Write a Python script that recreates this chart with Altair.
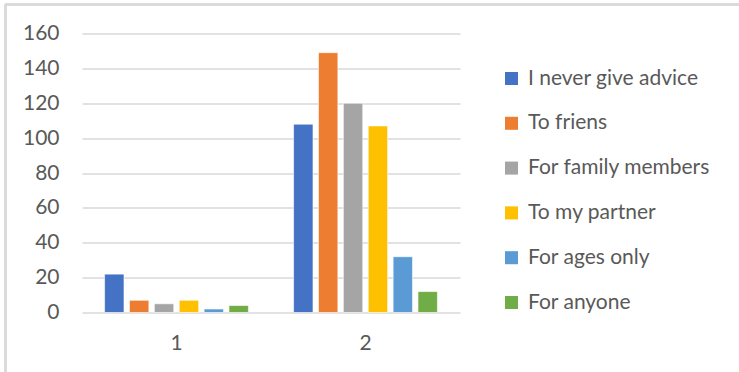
import altair as alt
import pandas as pd

groups = ["1", "2"]
series = ["I never give advice", "To friens", "For family members",
          "To my partner", "For ages only", "For anyone"]
values_1 = [22, 7, 5, 7, 2, 4]
values_2 = [108, 149, 120, 107, 32, 12]
colors = ["#4472C4", "#ED7D31", "#A5A5A5", "#FFC000", "#5B9BD5", "#70AD47"]
y_ticks = [0, 20, 40, 60, 80, 100, 120, 140, 160]

rows = []
for g, vals in zip(groups, [values_1, values_2]):
    for s, v in zip(series, vals):
        rows.append({"group": g, "series": s, "value": v})
df = pd.DataFrame(rows)

FONT = "Lato"
FS = 21
LEFT, TOP = 82, 33.5
W, H = 378, 279

bars = alt.Chart(df).mark_bar(stroke="white", strokeWidth=0.6).encode(
    x=alt.X("group:N", sort=groups,
            scale=alt.Scale(paddingInner=0.21, paddingOuter=0.105),
            axis=alt.Axis(title=None, labelAngle=0, ticks=False, domain=False,
                          labelFont=FONT, labelFontSize=FS, labelColor="#595959",
                          labelPadding=20, grid=False)),
    xOffset=alt.XOffset("series:N", sort=series,
                        scale=alt.Scale(paddingInner=0.22, paddingOuter=0.11)),
    y=alt.Y("value:Q", scale=alt.Scale(domain=[0, 160], nice=False),
            axis=alt.Axis(title=None, values=y_ticks, ticks=False, domain=False,
                          labelFont=FONT, labelFontSize=FS, labelColor="#595959",
                          labelPadding=23, gridColor="#d9d9d9", gridWidth=1.5)),
    color=alt.Color("series:N", sort=series,
                    scale=alt.Scale(domain=series, range=colors),
                    legend=alt.Legend(title=None, orient="none", legendX=419, legendY=34.5,
                                      symbolType="square", symbolSize=170,
                                      symbolStrokeWidth=0,
                                      labelFont=FONT, labelFontSize=FS,
                                      labelColor="#595959", labelOffset=6,
                                      labelLimit=300,
                                      rowPadding=22.8, padding=0)),
)

border_top = alt.Chart(df).mark_rule(color="#d9d9d9", strokeWidth=1.5).encode(
    x=alt.value(-LEFT + 5), x2=alt.value(739 - LEFT), y=alt.value(-TOP + 4.5))
border_left = alt.Chart(df).mark_rule(color="#d9d9d9", strokeWidth=1.5).encode(
    x=alt.value(-LEFT + 5.5), y=alt.value(-TOP + 4.5), y2=alt.value(372 - TOP))

chart = alt.layer(border_top, border_left, bars).properties(
    width=W, height=H,
    autosize=alt.AutoSizeParams(type="none"),
    padding={"left": LEFT, "top": TOP, "right": 739 - LEFT - W, "bottom": 372 - TOP - H},
    background="white",
).configure_view(stroke=None)

chart.save("out.html", embed_options={"renderer": "svg", "actions": False})
